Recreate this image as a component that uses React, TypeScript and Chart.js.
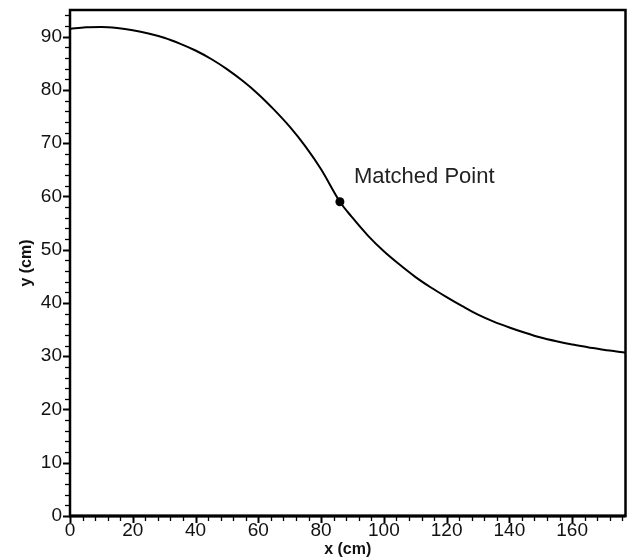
import React, { useEffect, useRef } from "react";
import { Chart, registerables } from "chart.js";

Chart.register(...registerables);

// Curve (x in cm, y in cm)
const curveX = [0, 5, 10, 15, 20, 25, 30, 35, 40, 45, 50, 55, 60, 65, 70, 75, 80, 86, 90, 95, 100, 105, 110, 115, 120, 125, 130, 135, 140, 145, 150, 155, 160, 165, 170, 177];
const curveY = [91.45, 91.75, 91.8, 91.6, 91.2, 90.6, 89.8, 88.7, 87.4, 85.8, 83.9, 81.7, 79.2, 76.3, 73.1, 69.4, 65.1, 59.0, 56.0, 52.6, 49.7, 47.2, 44.9, 42.9, 41.1, 39.4, 37.8, 36.5, 35.4, 34.4, 33.5, 32.8, 32.2, 31.7, 31.2, 30.7];

// Matched point
const matchedX = [86];
const matchedY = [59.0];
const matchedLabel = "Matched Point";

// Axes
const xTitle = "x (cm)";
const yTitle = "y (cm)";
const X_MIN = 0, X_MAX = 177, X_MAJOR = 20, X_MINOR = 4;
const Y_MIN = 0, Y_MAX = 95, Y_MAJOR = 10, Y_MINOR = 2;

const FONT = "'Liberation Sans', Arial, sans-serif";

const framePlugin = {
  id: "frameTicks",
  afterDraw(chart: any) {
    const { ctx, chartArea: a } = chart;
    const xs = chart.scales.x;
    const ys = chart.scales.y;
    ctx.save();
    ctx.strokeStyle = "#000";
    // x ticks
    for (let v = X_MIN; v <= X_MAX + 1e-9; v += X_MINOR) {
      const major = Math.abs(v % X_MAJOR) < 1e-9;
      const px = Math.round(xs.getPixelForValue(v)) + 0.5;
      ctx.lineWidth = major ? 2 : 1.3;
      ctx.beginPath();
      ctx.moveTo(px, a.bottom);
      ctx.lineTo(px, a.bottom + (major ? 7 : 5));
      ctx.stroke();
    }
    // y ticks
    for (let v = Y_MIN; v <= Y_MAX + 1e-9; v += Y_MINOR) {
      const major = Math.abs(v % Y_MAJOR) < 1e-9;
      const py = Math.round(ys.getPixelForValue(v)) + 0.5;
      ctx.lineWidth = major ? 2 : 1.3;
      ctx.beginPath();
      ctx.moveTo(a.left, py);
      ctx.lineTo(a.left - (major ? 7 : 5), py);
      ctx.stroke();
    }
    // frame
    ctx.lineWidth = 2.5;
    ctx.strokeRect(a.left, a.top, a.right - a.left, a.bottom - a.top);
    ctx.lineWidth = 3;
    ctx.beginPath();
    ctx.moveTo(a.left - 1, a.bottom);
    ctx.lineTo(a.right, a.bottom);
    ctx.stroke();
    // annotation
    const px = xs.getPixelForValue(matchedX[0]);
    const py = ys.getPixelForValue(matchedY[0]);
    ctx.fillStyle = "#222";
    ctx.font = `22px ${FONT}`;
    ctx.textAlign = "left";
    ctx.textBaseline = "alphabetic";
    ctx.fillText(matchedLabel, px + 14, py - 19);
    ctx.restore();
  },
};

export default function App() {
  const ref = useRef<HTMLCanvasElement>(null);
  useEffect(() => {
    if (!ref.current) return;
    const chart = new Chart(ref.current, {
      type: "scatter",
      data: {
        datasets: [
          {
            data: curveX.map((x, i) => ({ x, y: curveY[i] })),
            showLine: true,
            borderColor: "#000",
            borderWidth: 2,
            pointRadius: 0,
            cubicInterpolationMode: "monotone",
          },
          {
            data: matchedX.map((x, i) => ({ x, y: matchedY[i] })),
            pointRadius: 4.5,
            backgroundColor: "#000",
            borderColor: "#000",
            borderWidth: 0,
          },
        ],
      },
      options: {
        responsive: false,
        animation: false,
        devicePixelRatio: 1,
        layout: { padding: { top: 10, right: 4, left: 0, bottom: 0 } },
        plugins: { legend: { display: false }, tooltip: { enabled: false } },
        scales: {
          x: {
            type: "linear",
            min: X_MIN,
            max: X_MAX,
            grid: { display: false, drawTicks: false },
            border: { display: false },
            ticks: {
              stepSize: X_MAJOR,
              includeBounds: false,
              padding: 3,
              color: "#111",
              font: { family: FONT, size: 19 },
              maxRotation: 0,
            },
            title: {
              display: true,
              text: xTitle,
              color: "#111",
              font: { family: FONT, size: 16, weight: "bold" },
              padding: { top: 0, bottom: 0 },
            },
            afterFit(scale: any) {
              scale.height = 43;
              scale.paddingLeft = 0;
              scale.paddingRight = 0;
            },
          },
          y: {
            type: "linear",
            min: Y_MIN,
            max: Y_MAX,
            grid: { display: false, drawTicks: false },
            border: { display: false },
            ticks: {
              stepSize: Y_MAJOR,
              includeBounds: false,
              padding: 8,
              color: "#111",
              font: { family: FONT, size: 19 },
            },
            title: {
              display: true,
              text: yTitle,
              color: "#111",
              font: { family: FONT, size: 16, weight: "bold" },
              padding: { top: 17, bottom: 0 },
            },
            afterFit(scale: any) {
              scale.width = 70;
              scale.paddingTop = 0;
              scale.paddingBottom = 0;
            },
          },
        },
      },
      plugins: [framePlugin],
    });
    return () => chart.destroy();
  }, []);
  return (
    <div style={{ position: "absolute", left: 0, top: 0, width: 630, height: 559, background: "#fff" }}>
      <canvas ref={ref} width={630} height={559} />
    </div>
  );
}
